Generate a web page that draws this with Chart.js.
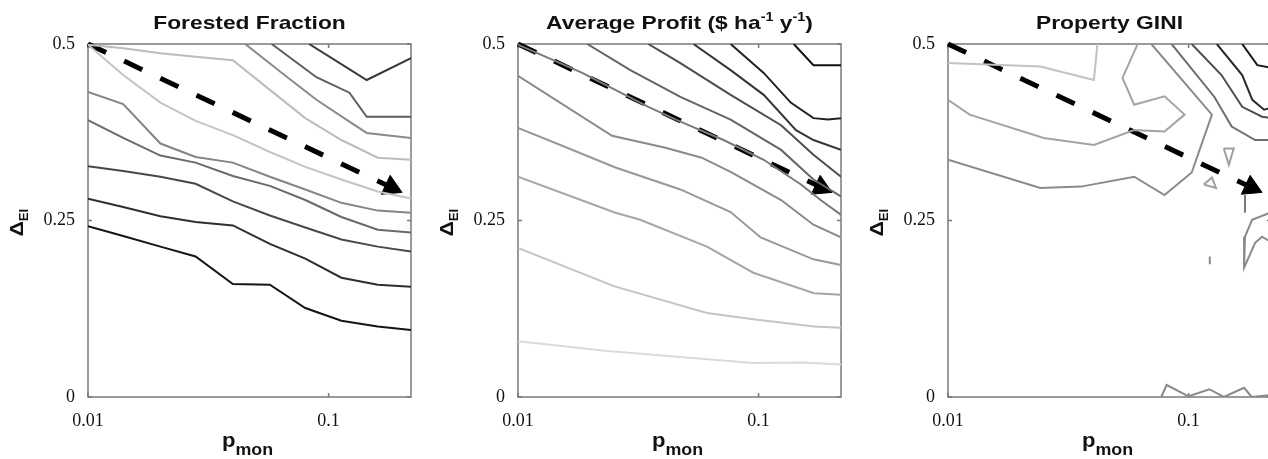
<!DOCTYPE html>
<html><head><meta charset="utf-8">
<script src="https://cdn.jsdelivr.net/npm/chart.js@4/dist/chart.umd.min.js"></script>
<style>
html,body{margin:0;padding:0;background:#fff;overflow:hidden;width:1268px;height:459px;}
.wrap{position:absolute;top:0;width:424px;height:459px;}
canvas{display:block;}
</style></head><body>
<div class="wrap" style="left:0px"><canvas id="c1" width="424" height="459"></canvas></div>
<div class="wrap" style="left:430px"><canvas id="c2" width="424" height="459"></canvas></div>
<div class="wrap" style="left:860px"><canvas id="c3" width="424" height="459"></canvas></div>
<script>
// ---------- axis ticks ----------
const xTickValues = [0.01, 0.1];
const yTickValues = [0, 0.25, 0.5];
const xRange = [0.01, 0.22];
const yRange = [0, 0.5];

// ---------- arrow (dashed trajectory) ----------
const arrowTail = [0.01, 0.5];
const arrowHead = [0.182, 0.297];

// ---------- Panel 1: Forested Fraction ----------
const ffGridX = [0.01, 0.014, 0.02, 0.028, 0.04, 0.057, 0.08, 0.113, 0.16, 0.22];
const ffJ = [0.242, 0.228, 0.213, 0.199, 0.160, 0.159, 0.126, 0.108, 0.100, 0.095];
const ffI = [0.281, 0.269, 0.256, 0.248, 0.243, 0.217, 0.196, 0.169, 0.159, 0.156];
const ffH = [0.327, 0.320, 0.312, 0.302, 0.277, 0.257, 0.240, 0.223, 0.213, 0.206];
const ffG = [0.392, 0.367, 0.342, 0.332, 0.313, 0.299, 0.279, 0.255, 0.237, 0.233];
const ffF = [0.432, 0.415, 0.359, 0.340, 0.332, 0.312, 0.294, 0.275, 0.264, 0.261];
const ffE = [0.499, 0.456, 0.417, 0.391, 0.371, 0.347, 0.326, 0.308, 0.291, 0.281];
const ffD = [0.499, 0.494, 0.487, 0.482, 0.477, 0.435, 0.395, 0.364, 0.339, 0.336];
const ffC = [[0.045,0.5],[0.064,0.459],[0.089,0.421],[0.122,0.390],[0.144,0.374],[0.22,0.367]];
const ffB = [[0.058,0.5],[0.089,0.453],[0.122,0.431],[0.144,0.397],[0.22,0.397]];
const ffA = [[0.083,0.5],[0.144,0.449],[0.22,0.48]];

// ---------- Panel 2: Average Profit ----------
const apP1 = [[0.01,0.079],[0.0235,0.065],[0.095,0.048],[0.154,0.049],[0.22,0.046]];
const apP2 = [[0.01,0.211],[0.025,0.157],[0.061,0.119],[0.095,0.110],[0.17,0.100],[0.22,0.098]];
const apP3 = [[0.01,0.312],[0.0254,0.261],[0.0322,0.251],[0.061,0.213],[0.095,0.176],[0.17,0.147],[0.22,0.145]];
const apP4 = [[0.01,0.381],[0.015,0.357],[0.0254,0.325],[0.0473,0.294],[0.0765,0.262],[0.102,0.226],[0.169,0.195],[0.22,0.187]];
const apP5 = [[0.01,0.455],[0.0246,0.370],[0.041,0.353],[0.058,0.339],[0.0765,0.319],[0.124,0.279],[0.169,0.244],[0.22,0.226]];
const apP6 = [[0.01,0.499],[0.0185,0.459],[0.0348,0.411],[0.0473,0.390],[0.0715,0.364],[0.105,0.336],[0.15,0.301],[0.181,0.279],[0.22,0.258]];
const apP7 = [[0.0194,0.5],[0.0293,0.463],[0.0473,0.425],[0.0765,0.393],[0.124,0.350],[0.169,0.308],[0.22,0.284]];
const apP8 = [[0.0348,0.5],[0.0473,0.473],[0.0765,0.428],[0.124,0.385],[0.169,0.343],[0.22,0.312]];
const apP9 = [[0.0536,0.5],[0.0765,0.463],[0.105,0.428],[0.143,0.378],[0.169,0.364],[0.22,0.350]];
const apP10 = [[0.0765,0.5],[0.105,0.459],[0.136,0.417],[0.169,0.395],[0.194,0.393],[0.22,0.395]];
const apP11 = [[0.14,0.5],[0.169,0.47],[0.22,0.47]];

// ---------- Panel 3: Property GINI ----------
const pgQ1 = [[0.01,0.473],[0.0242,0.468],[0.0404,0.449],[0.0418,0.5]];
const pgQ2 = [[0.01,0.421],[0.0123,0.400],[0.025,0.367],[0.0404,0.357],[0.0594,0.378],[0.0794,0.376],[0.0962,0.400],[0.0794,0.426],[0.0594,0.414],[0.0531,0.452],[0.0614,0.5]];
const pgQ3 = [[0.01,0.336],[0.0242,0.296],[0.0357,0.298],[0.0594,0.312],[0.0794,0.286],[0.103,0.318],[0.125,0.400],[0.070,0.5]];
const pgR2 = [[0.085,0.5],[0.128,0.425],[0.151,0.383],[0.189,0.364],[0.222,0.364]];
const pgR3 = [[0.103,0.5],[0.137,0.456],[0.167,0.411],[0.202,0.397],[0.222,0.395]];
const pgR4 = [[0.131,0.5],[0.167,0.456],[0.184,0.421],[0.206,0.407],[0.222,0.41]];
const pgR5 = [[0.167,0.5],[0.193,0.47],[0.222,0.466]];
const pgLoop1 = [[0.140,0.352],[0.154,0.352],[0.147,0.329],[0.140,0.352]];
const pgLoop2 = [[0.1156,0.301],[0.125,0.311],[0.13,0.296],[0.1156,0.301]];
const pgStroke = [[0.1715,0.286],[0.1715,0.261]];
const pgHook = [[0.222,0.262],[0.1835,0.251],[0.1715,0.227],[0.17,0.183],[0.189,0.2185],[0.202,0.227],[0.222,0.2185]];
const pgDot = [[0.1225,0.199],[0.1225,0.188]];
const pgWiggle = [[0.077,0],[0.081,0.017],[0.1,0.001],[0.122,0.011],[0.14,0],[0.17,0.013],[0.183,0],[0.222,0.003]];

// ---------- helpers ----------
const zip = (xs, ys) => xs.map((x, i) => [x, ys[i]]);
const toPts = arr => arr.map(p => ({x: p[0], y: p[1]}));

const SANS = "'Liberation Sans', Arial, Helvetica, sans-serif";
const SERIF = "'Liberation Serif', 'Times New Roman', serif";

function drawSegments(ctx, segs, cx, baseline, sx) {
  let w = 0;
  for (const s of segs) { ctx.font = 'bold ' + s.size + 'px ' + SANS; s.w = ctx.measureText(s.t).width; w += s.w; }
  ctx.save();
  ctx.translate(cx, baseline);
  ctx.scale(sx, 1);
  let x = -w / 2;
  ctx.textBaseline = 'alphabetic';
  ctx.textAlign = 'left';
  ctx.fillStyle = '#111';
  for (const s of segs) { ctx.font = 'bold ' + s.size + 'px ' + SANS; ctx.fillText(s.t, x, s.dy || 0); x += s.w; }
  ctx.restore();
}

const decor = {
  id: 'decor',
  beforeDatasetsDraw(chart) {
    const {ctx, chartArea: a, scales: {x, y}} = chart;
    ctx.save();
    ctx.strokeStyle = '#7a7a7a';
    ctx.lineWidth = 1.5;
    ctx.strokeRect(a.left, a.top, a.right - a.left, a.bottom - a.top);
    ctx.beginPath();
    for (const v of yTickValues) {
      const py = y.getPixelForValue(v);
      ctx.moveTo(a.left, py); ctx.lineTo(a.left + 4, py);
      ctx.moveTo(a.right, py); ctx.lineTo(a.right - 4, py);
    }
    for (const v of xTickValues) {
      const px = x.getPixelForValue(v);
      ctx.moveTo(px, a.bottom); ctx.lineTo(px, a.bottom - 4);
      ctx.moveTo(px, a.top); ctx.lineTo(px, a.top + 4);
    }
    ctx.stroke();
    ctx.restore();
  },
  afterDraw(chart, args, opts) {
    const {ctx, chartArea: a} = chart;
    const cx = (a.left + a.right) / 2;
    drawSegments(ctx, opts.title, cx, 29, 1.2);
    drawSegments(ctx, [{t: 'p', size: 21}, {t: 'mon', size: 17, dy: 8}], cx - 2, 447, 1.05);
    ctx.save();
    ctx.translate(23, (a.top + a.bottom) / 2 + 2);
    ctx.rotate(-Math.PI / 2);
    drawSegments(ctx, [{t: 'Δ', size: 19}, {t: 'EI', size: 12, dy: 5}], 0, 0, 1.1);
    ctx.restore();
  }
};

function makeChart(id, title, lines) {
  const datasets = lines.map(l => ({
    data: toPts(l.pts), borderColor: l.color, borderWidth: 2,
    pointRadius: 0, tension: 0, fill: false, borderJoinStyle: 'miter'
  }));
  datasets.push({
    data: toPts([arrowTail, arrowHead]), borderColor: '#000', borderWidth: 5,
    borderDash: [20, 20], borderCapStyle: 'butt', pointRadius: 0, fill: false, clip: false
  });
  datasets.push({
    data: toPts([arrowHead]), showLine: false, pointStyle: 'triangle',
    pointRadius: 12, rotation: 115, backgroundColor: '#000', borderColor: '#000',
    borderWidth: 1, clip: false
  });
  const tickFont = {family: SERIF, size: 18};
  return new Chart(document.getElementById(id), {
    type: 'line',
    data: {datasets},
    plugins: [decor],
    options: {
      responsive: false, animation: false, events: [],
      layout: {padding: {top: 44, right: 9, left: 0, bottom: 0}},
      plugins: {legend: {display: false}, tooltip: {enabled: false}, decor: {title}},
      scales: {
        x: {
          type: 'logarithmic', min: xRange[0], max: xRange[1],
          afterBuildTicks: s => { s.ticks = xTickValues.map(v => ({value: v})); },
          afterFit: s => { s.height = 62; s.paddingLeft = 0; s.paddingRight = 0; },
          grid: {display: false}, border: {display: false},
          ticks: {font: tickFont, color: '#111', padding: 5, maxRotation: 0, autoSkip: false,
                  callback: v => String(v)}
        },
        y: {
          type: 'linear', min: yRange[0], max: yRange[1],
          afterBuildTicks: s => { s.ticks = yTickValues.map(v => ({value: v})); },
          afterFit: s => { s.width = 88; s.paddingTop = 0; s.paddingBottom = 0; },
          grid: {display: false}, border: {display: false},
          ticks: {font: tickFont, color: '#111', padding: 5, callback: v => String(v)}
        }
      }
    }
  });
}

makeChart('c1', [{t: 'Forested Fraction', size: 19}], [
  {pts: zip(ffGridX, ffJ), color: '#151515'},
  {pts: zip(ffGridX, ffI), color: '#2e2e2e'},
  {pts: zip(ffGridX, ffH), color: '#484848'},
  {pts: zip(ffGridX, ffG), color: '#6a6a6a'},
  {pts: zip(ffGridX, ffF), color: '#858585'},
  {pts: zip(ffGridX, ffE), color: '#c4c4c4'},
  {pts: zip(ffGridX, ffD), color: '#bcbcbc'},
  {pts: ffC, color: '#8a8a8a'},
  {pts: ffB, color: '#5e5e5e'},
  {pts: ffA, color: '#383838'}
]);

makeChart('c2', [
  {t: 'Average Profit ($ ha', size: 19}, {t: '-1', size: 12, dy: -8},
  {t: ' y', size: 19}, {t: '-1', size: 12, dy: -8}, {t: ')', size: 19}
], [
  {pts: apP1, color: '#dadada'},
  {pts: apP2, color: '#c4c4c4'},
  {pts: apP3, color: '#a6a6a6'},
  {pts: apP4, color: '#989898'},
  {pts: apP5, color: '#8a8a8a'},
  {pts: apP6, color: '#7a7a7a'},
  {pts: apP7, color: '#646464'},
  {pts: apP8, color: '#4c4c4c'},
  {pts: apP9, color: '#363636'},
  {pts: apP10, color: '#222222'},
  {pts: apP11, color: '#111111'}
]);

makeChart('c3', [{t: 'Property GINI', size: 19}], [
  {pts: pgQ1, color: '#c2c2c2'},
  {pts: pgQ2, color: '#a4a4a4'},
  {pts: pgQ3, color: '#8a8a8a'},
  {pts: pgR2, color: '#6e6e6e'},
  {pts: pgR3, color: '#4e4e4e'},
  {pts: pgR4, color: '#2a2a2a'},
  {pts: pgR5, color: '#1a1a1a'},
  {pts: pgLoop1, color: '#a0a0a0'},
  {pts: pgLoop2, color: '#a0a0a0'},
  {pts: pgStroke, color: '#7a7a7a'},
  {pts: pgHook, color: '#8a8a8a'},
  {pts: pgDot, color: '#8a8a8a'},
  {pts: pgWiggle, color: '#8a8a8a'}
]);
</script>
</body></html>
